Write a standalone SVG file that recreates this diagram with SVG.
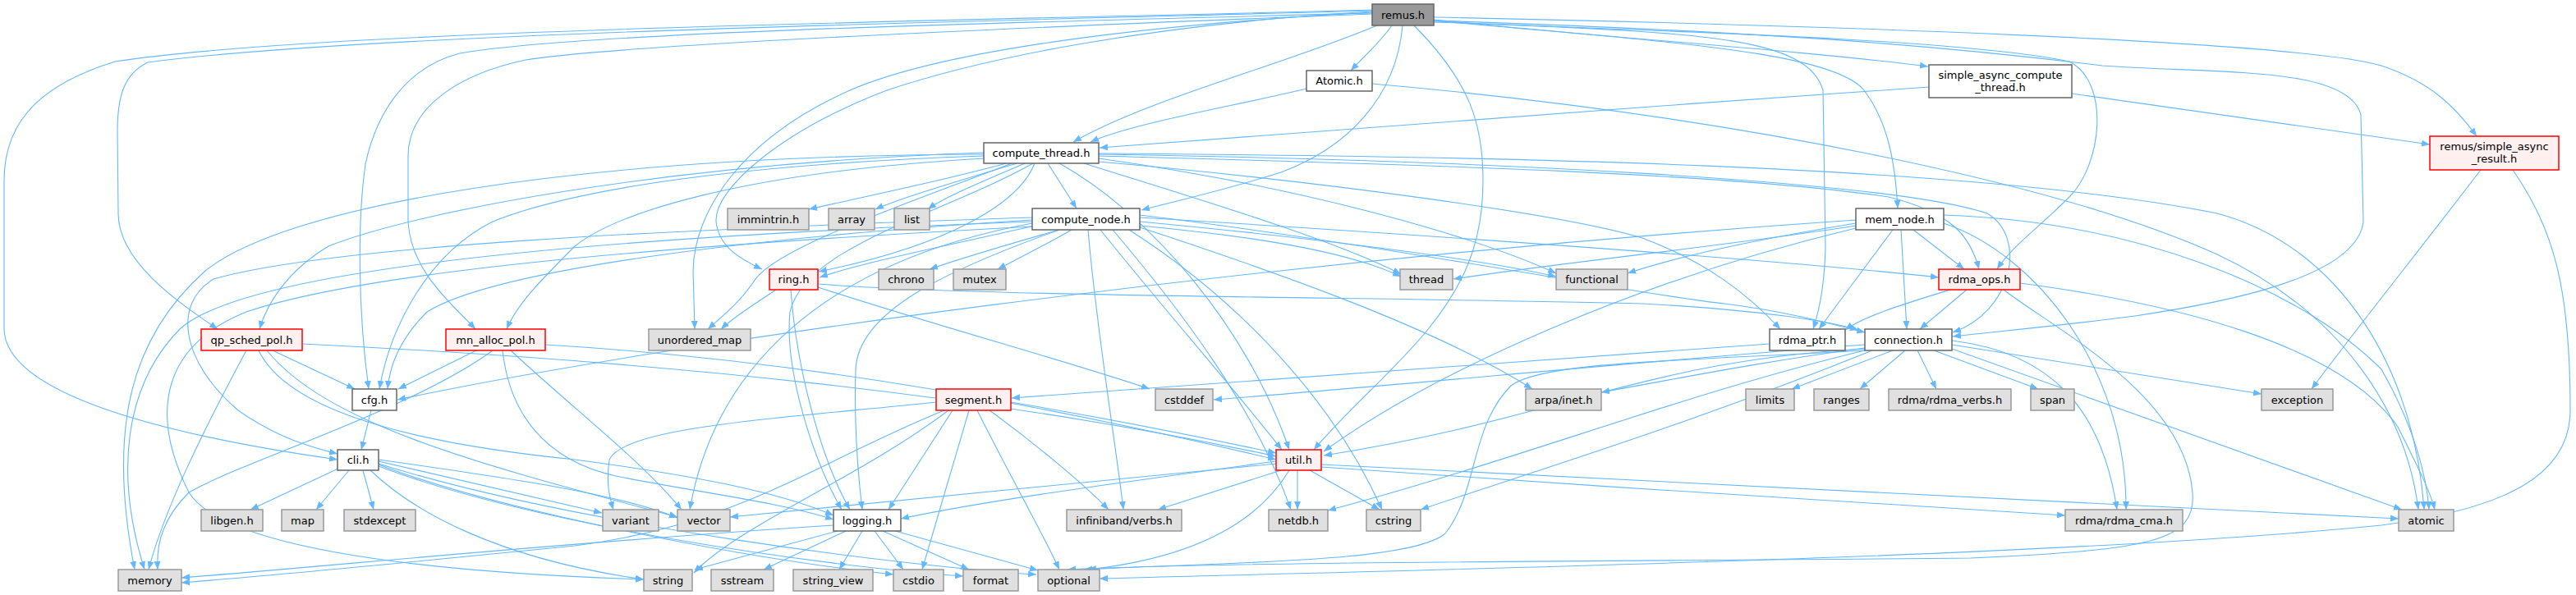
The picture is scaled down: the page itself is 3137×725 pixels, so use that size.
<svg xmlns="http://www.w3.org/2000/svg" width="3137" height="725" viewBox="0 0 3137 725">
<style>
.e{fill:none;stroke:#63b8ff;stroke-width:1.1}
.w rect{fill:#ffffff;stroke:#666666;stroke-width:1.5}
.g rect{fill:#e0e0e0;stroke:#999999;stroke-width:1.5}
.r rect{fill:#fff0f0;stroke:#ff0000;stroke-width:1.5}
.root rect{fill:#999999;stroke:#666666;stroke-width:1.5}
text{font-family:"DejaVu Sans","Noto Sans",sans-serif;font-size:13px;text-anchor:middle;fill:#000000}
</style>
<defs>
<marker id="a" markerWidth="11" markerHeight="9" refX="10" refY="4.5" orient="auto" markerUnits="userSpaceOnUse"><path d="M0,0.5 L10,4.5 L0,8.5 z" fill="#63b8ff"/></marker>
</defs>
<rect width="3137" height="725" fill="#ffffff"/>
<g id="edges" marker-end="url(#a)">
<!-- remus.h -->
<path class="e" d="M1695,31 C1682,50 1660,70 1645,86"/>
<path class="e" d="M1677,31 C1560,80 1400,120 1307,173"/>
<path class="e" d="M1708,31 C1700,120 1640,180 1560,210 C1480,235 1430,245 1390,256"/>
<path class="e" d="M1746,24 C2000,50 2230,60 2270,110 C2300,150 2308,200 2311,254"/>
<path class="e" d="M1746,25 C1950,45 2200,62 2348,81"/>
<path class="e" d="M1746,21 C2200,30 2800,50 2900,80 C2960,100 2990,130 3016,166"/>
<path class="e" d="M1746,27 C2100,40 2400,50 2520,75 C2570,100 2560,200 2520,240 C2480,280 2450,300 2432,328"/>
<path class="e" d="M1746,26 C2050,40 2200,40 2220,110 L2223,300 C2222,350 2215,380 2208,401"/>
<path class="e" d="M1746,25 C2200,40 2400,60 2560,80 C2700,90 2860,80 2875,140 L2878,270 C2870,340 2700,370 2600,385 C2500,398 2420,405 2378,410"/>
<path class="e" d="M1671,16 C1200,28 700,40 560,65 C500,80 460,130 445,200 C435,270 436,380 449,474"/>
<path class="e" d="M1671,12 C1200,25 400,35 140,75 C60,100 5,140 5,220 L5,400 C5,480 200,530 411,560"/>
<path class="e" d="M1671,13 C1200,26 450,40 180,76 C150,90 143,120 143,160 L144,260 C144,320 220,370 265,401"/>
<path class="e" d="M1671,17 C1200,35 750,55 640,73 C560,90 497,130 497,190 L497,270 C500,330 550,370 579,401"/>
<path class="e" d="M1671,14 C1400,30 1200,70 1080,110 C950,160 870,230 872,270 C875,300 900,315 928,328"/>
<path class="e" d="M1671,15 C1400,30 1150,60 1035,110 C900,170 845,260 844,330 L846,401"/>
<path class="e" d="M1722,31 C1790,100 1806,150 1806,220 C1806,300 1780,350 1740,400 C1700,450 1640,500 1600,548"/>
<!-- Atomic.h -->
<path class="e" d="M1591,108 C1500,130 1380,150 1328,173"/>
<path class="e" d="M1671,102 C2100,140 2500,220 2700,310 C2850,380 2930,500 2945,621"/>
<!-- simple_async_compute_thread.h -->
<path class="e" d="M2349,106 C2000,130 1600,160 1339,180"/>
<path class="e" d="M2523,114 L2959,176"/>
<!-- remus/simple_async_result.h -->
<path class="e" d="M3021,207 C2950,300 2870,400 2815,474"/>
<path class="e" d="M3060,207 C3110,280 3130,350 3130,500 C3130,580 3050,620 2900,640 C2500,680 1700,695 1339,705"/>
<!-- compute_thread.h -->
<path class="e" d="M1225,199 C1150,220 1050,240 985,255"/>
<path class="e" d="M1238,199 C1170,220 1100,240 1066,255"/>
<path class="e" d="M1248,199 C1200,220 1150,240 1130,255"/>
<path class="e" d="M1276,199 L1311,254"/>
<path class="e" d="M1260,199 C1240,250 1150,300 997,331"/>
<path class="e" d="M1232,199 C1100,250 950,300 920,340 C900,370 880,385 862,401"/>
<path class="e" d="M1198,190 C900,200 700,230 600,270 C520,310 475,400 462,474"/>
<path class="e" d="M1198,186 C800,200 500,260 400,300 C350,330 325,370 316,401"/>
<path class="e" d="M1198,193 C900,210 750,260 700,300 C660,340 630,370 617,401"/>
<path class="e" d="M1198,188 C700,190 350,250 250,330 C160,410 130,520 164,694"/>
<path class="e" d="M1258,199 C1150,260 980,300 962,380 C955,450 990,560 1025,621"/>
<path class="e" d="M1290,199 C1400,260 1520,400 1570,548"/>
<path class="e" d="M1320,199 C1450,240 1620,290 1706,334"/>
<path class="e" d="M1338,193 C1600,230 1800,290 1895,333"/>
<path class="e" d="M1338,190 C1700,200 2100,210 2300,240 C2380,260 2400,290 2410,328"/>
<path class="e" d="M1338,197 C1600,220 1900,260 2000,290 C2080,320 2130,360 2168,401"/>
<path class="e" d="M1338,188 C1800,195 2300,220 2420,260 C2470,290 2450,380 2378,405"/>
<path class="e" d="M1338,187 C1800,190 2400,200 2700,260 C2850,300 2940,450 2952,621"/>
<!-- compute_node.h -->
<path class="e" d="M1290,280 C1220,300 1170,315 1132,328"/>
<path class="e" d="M1305,280 C1270,300 1240,315 1215,328"/>
<path class="e" d="M1260,275 C1150,300 1050,320 998,338"/>
<path class="e" d="M1388,275 C1550,290 1650,310 1706,337"/>
<path class="e" d="M1388,270 C1600,290 1800,315 1895,337"/>
<path class="e" d="M1257,272 C1000,320 870,450 840,621"/>
<path class="e" d="M1257,268 C900,290 600,330 520,380 C490,410 475,440 472,474"/>
<path class="e" d="M1290,280 C1150,330 1045,380 1042,450 C1040,520 1045,580 1050,621"/>
<path class="e" d="M1340,280 C1420,380 1500,470 1561,548"/>
<path class="e" d="M1388,262 C1700,300 2000,360 2100,370 C2180,380 2230,395 2271,405"/>
<path class="e" d="M1388,265 C1800,290 2200,320 2361,338"/>
<path class="e" d="M1388,277 C1550,330 1750,400 1866,474"/>
<path class="e" d="M1355,280 C1440,380 1530,500 1572,621"/>
<path class="e" d="M1375,280 C1500,360 1620,480 1683,621"/>
<path class="e" d="M1325,280 C1335,400 1360,550 1368,621"/>
<path class="e" d="M1257,270 C700,290 300,330 220,400 C150,470 140,580 176,694"/>
<path class="e" d="M1257,276 C800,300 450,330 300,380 C200,420 180,500 230,600 C280,680 600,700 784,706"/>
<path class="e" d="M1257,265 C800,280 400,300 260,340 C210,370 220,440 290,500 C340,535 380,545 411,553"/>
<!-- mem_node.h -->
<path class="e" d="M2260,275 C2100,300 1900,320 1770,340"/>
<path class="e" d="M2260,272 C2150,290 2050,310 1982,333"/>
<path class="e" d="M2330,280 L2392,328"/>
<path class="e" d="M2305,280 L2215,401"/>
<path class="e" d="M2315,280 L2322,401"/>
<path class="e" d="M2260,278 C2000,340 1750,450 1612,550"/>
<path class="e" d="M2260,268 C1500,320 800,420 484,487"/>
<path class="e" d="M2367,262 C2600,270 2800,350 2900,450 C2940,520 2955,580 2958,621"/>
<path class="e" d="M2367,272 C2480,310 2590,450 2589,621"/>
<!-- rdma_ops.h -->
<path class="e" d="M2395,353 L2338,401"/>
<path class="e" d="M2375,353 C2320,370 2270,385 2247,402"/>
<path class="e" d="M2460,345 C2650,370 2850,420 2920,520 C2945,570 2960,600 2965,621"/>
<path class="e" d="M2440,353 C2500,400 2660,480 2670,600 C2675,660 2620,670 2400,680 C2000,684 1500,684 1300,694"/>
<!-- rdma_ptr.h -->
<path class="e" d="M2155,419 C1800,445 1500,465 1232,485"/>
<!-- connection.h -->
<path class="e" d="M2305,427 L2182,474"/>
<path class="e" d="M2320,427 L2265,474"/>
<path class="e" d="M2335,427 L2358,474"/>
<path class="e" d="M2355,427 L2482,474"/>
<path class="e" d="M2377,420 L2754,480"/>
<path class="e" d="M2377,425 L2925,621"/>
<path class="e" d="M2377,415 C2500,430 2560,500 2578,621"/>
<path class="e" d="M2271,424 C2150,440 2050,460 1950,478"/>
<path class="e" d="M2271,425 C2000,440 1900,510 1612,555"/>
<path class="e" d="M2271,427 C2050,480 1850,560 1617,622"/>
<path class="e" d="M2280,427 C2050,520 1850,580 1730,621"/>
<path class="e" d="M2271,420 C2000,440 1700,470 1478,487"/>
<path class="e" d="M2271,427 C2050,440 1880,440 1840,470 C1790,520 1800,600 1760,650 C1720,685 1500,685 1320,694"/>
<!-- ring.h -->
<path class="e" d="M945,353 C920,370 895,385 878,401"/>
<path class="e" d="M996,350 C1150,400 1300,440 1400,474"/>
<path class="e" d="M963,353 C970,450 1000,560 1035,621"/>
<path class="e" d="M996,346 C1200,362 1700,362 2000,370 C2150,378 2230,392 2263,402"/>
<!-- qp_sched_pol.h -->
<path class="e" d="M332,427 L432,474"/>
<path class="e" d="M300,427 C250,520 200,620 181,694"/>
<path class="e" d="M315,427 C350,500 500,540 700,560 C850,580 950,600 1015,628"/>
<path class="e" d="M368,419 C800,440 1200,480 1554,556"/>
<path class="e" d="M325,427 C400,520 600,570 825,630"/>
<!-- mn_alloc_pol.h -->
<path class="e" d="M580,427 L485,474"/>
<path class="e" d="M600,427 C500,500 300,560 230,600 C200,630 190,660 192,694"/>
<path class="e" d="M612,427 C620,500 660,560 750,580 C850,600 950,612 1015,633"/>
<path class="e" d="M664,420 C1000,440 1300,500 1554,560"/>
<path class="e" d="M622,427 C700,500 780,560 830,621"/>
<!-- cfg.h -->
<path class="e" d="M452,500 L440,548"/>
<!-- cli.h -->
<path class="e" d="M414,570 L305,621"/>
<path class="e" d="M425,573 L385,621"/>
<path class="e" d="M442,573 L455,621"/>
<path class="e" d="M461,562 L733,625"/>
<path class="e" d="M461,560 C600,580 750,600 825,631"/>
<path class="e" d="M451,573 C500,620 600,680 784,706"/>
<path class="e" d="M461,566 C600,620 900,680 1088,700"/>
<path class="e" d="M461,568 C650,640 1000,690 1173,702"/>
<path class="e" d="M461,565 C700,640 1100,690 1262,700"/>
<!-- segment.h -->
<path class="e" d="M1160,500 L1082,621"/>
<path class="e" d="M1155,500 C1050,580 900,640 845,698"/>
<path class="e" d="M1180,500 L1123,694"/>
<path class="e" d="M1190,500 C1230,580 1270,650 1290,694"/>
<path class="e" d="M1205,500 C1260,540 1320,590 1350,621"/>
<path class="e" d="M1231,490 C1350,510 1450,530 1554,552"/>
<path class="e" d="M1150,500 C1000,560 900,640 700,665 C500,685 350,700 221,710"/>
<path class="e" d="M1140,490 C950,510 760,520 742,560 C738,590 742,605 747,621"/>
<!-- util.h -->
<path class="e" d="M1554,562 C1350,590 1200,610 1097,632"/>
<path class="e" d="M1554,565 C1200,600 1000,620 889,630"/>
<path class="e" d="M1560,573 L1410,621"/>
<path class="e" d="M1580,573 L1580,621"/>
<path class="e" d="M1595,573 L1680,621"/>
<path class="e" d="M1609,566 C2100,590 2600,615 2921,632"/>
<path class="e" d="M1609,569 C1900,590 2300,615 2515,628"/>
<path class="e" d="M1570,573 C1530,640 1450,680 1325,694"/>
<!-- logging.h -->
<path class="e" d="M1020,647 L846,694"/>
<path class="e" d="M1030,647 L930,694"/>
<path class="e" d="M1050,647 L1022,694"/>
<path class="e" d="M1065,647 L1100,694"/>
<path class="e" d="M1075,647 L1180,694"/>
<path class="e" d="M1090,647 L1264,695"/>
<path class="e" d="M1015,640 C700,660 400,690 221,704"/>
</g>
<g id="n_remus" class="root"><rect x="1671" y="5" width="75" height="26"/><text x="1708.5" y="22.5">remus.h</text></g>
<g id="n_Atomic" class="w"><rect x="1591" y="86" width="80" height="25"/><text x="1631" y="103">Atomic.h</text></g>
<g id="n_sact" class="w"><rect x="2349" y="79" width="174" height="40"/><text x="2436" y="96">simple_async_compute</text><text x="2436" y="111">_thread.h</text></g>
<g id="n_compute_thread" class="w"><rect x="1198" y="174" width="140" height="25"/><text x="1268" y="191">compute_thread.h</text></g>
<g id="n_sar" class="r"><rect x="2959" y="166" width="157" height="41"/><text x="3037.5" y="183">remus/simple_async</text><text x="3037.5" y="198">_result.h</text></g>
<g id="n_immintrin" class="g"><rect x="886" y="254" width="99" height="26"/><text x="935.5" y="271.5">immintrin.h</text></g>
<g id="n_array" class="g"><rect x="1009" y="254" width="56" height="26"/><text x="1037" y="271.5">array</text></g>
<g id="n_list" class="g"><rect x="1089" y="254" width="43" height="26"/><text x="1110.5" y="271.5">list</text></g>
<g id="n_compute_node" class="w"><rect x="1257" y="254" width="131" height="26"/><text x="1322.5" y="271.5">compute_node.h</text></g>
<g id="n_mem_node" class="w"><rect x="2260" y="254" width="107" height="26"/><text x="2313.5" y="271.5">mem_node.h</text></g>
<g id="n_ring" class="r"><rect x="937" y="328" width="59" height="25"/><text x="966.5" y="345">ring.h</text></g>
<g id="n_chrono" class="g"><rect x="1070" y="328" width="67" height="25"/><text x="1103.5" y="345">chrono</text></g>
<g id="n_mutex" class="g"><rect x="1161" y="328" width="64" height="25"/><text x="1193" y="345">mutex</text></g>
<g id="n_thread" class="g"><rect x="1705" y="328" width="64" height="25"/><text x="1737" y="345">thread</text></g>
<g id="n_functional" class="g"><rect x="1895" y="328" width="87" height="25"/><text x="1938.5" y="345">functional</text></g>
<g id="n_rdma_ops" class="r"><rect x="2361" y="328" width="99" height="25"/><text x="2410.5" y="345">rdma_ops.h</text></g>
<g id="n_qp_sched_pol" class="r"><rect x="245" y="401" width="123" height="26"/><text x="306.5" y="418.5">qp_sched_pol.h</text></g>
<g id="n_mn_alloc_pol" class="r"><rect x="543" y="401" width="121" height="26"/><text x="603.5" y="418.5">mn_alloc_pol.h</text></g>
<g id="n_unordered_map" class="g"><rect x="790" y="401" width="124" height="26"/><text x="852" y="418.5">unordered_map</text></g>
<g id="n_rdma_ptr" class="w"><rect x="2155" y="401" width="92" height="26"/><text x="2201" y="418.5">rdma_ptr.h</text></g>
<g id="n_connection" class="w"><rect x="2271" y="401" width="106" height="26"/><text x="2324" y="418.5">connection.h</text></g>
<g id="n_cfg" class="w"><rect x="429" y="474" width="54" height="26"/><text x="456" y="491.5">cfg.h</text></g>
<g id="n_segment" class="r"><rect x="1140" y="474" width="91" height="26"/><text x="1185.5" y="491.5">segment.h</text></g>
<g id="n_cstddef" class="g"><rect x="1407" y="474" width="70" height="26"/><text x="1442" y="491.5">cstddef</text></g>
<g id="n_arpa_inet" class="g"><rect x="1858" y="474" width="92" height="26"/><text x="1904" y="491.5">arpa/inet.h</text></g>
<g id="n_limits" class="g"><rect x="2126" y="474" width="59" height="26"/><text x="2155.5" y="491.5">limits</text></g>
<g id="n_ranges" class="g"><rect x="2209" y="474" width="67" height="26"/><text x="2242.5" y="491.5">ranges</text></g>
<g id="n_rdma_verbs" class="g"><rect x="2300" y="474" width="149" height="26"/><text x="2374.5" y="491.5">rdma/rdma_verbs.h</text></g>
<g id="n_span" class="g"><rect x="2473" y="474" width="53" height="26"/><text x="2499.5" y="491.5">span</text></g>
<g id="n_exception" class="g"><rect x="2754" y="474" width="87" height="26"/><text x="2797.5" y="491.5">exception</text></g>
<g id="n_cli" class="w"><rect x="411" y="548" width="50" height="25"/><text x="436" y="565">cli.h</text></g>
<g id="n_util" class="r"><rect x="1554" y="548" width="55" height="25"/><text x="1581.5" y="565">util.h</text></g>
<g id="n_libgen" class="g"><rect x="245" y="621" width="75" height="26"/><text x="282.5" y="638.5">libgen.h</text></g>
<g id="n_map" class="g"><rect x="343" y="621" width="51" height="26"/><text x="368.5" y="638.5">map</text></g>
<g id="n_stdexcept" class="g"><rect x="419" y="621" width="87" height="26"/><text x="462.5" y="638.5">stdexcept</text></g>
<g id="n_variant" class="g"><rect x="734" y="621" width="68" height="26"/><text x="768" y="638.5">variant</text></g>
<g id="n_vector" class="g"><rect x="825" y="621" width="64" height="26"/><text x="857" y="638.5">vector</text></g>
<g id="n_logging" class="w"><rect x="1015" y="621" width="82" height="26"/><text x="1056" y="638.5">logging.h</text></g>
<g id="n_ibverbs" class="g"><rect x="1299" y="621" width="140" height="26"/><text x="1369" y="638.5">infiniband/verbs.h</text></g>
<g id="n_netdb" class="g"><rect x="1545" y="621" width="72" height="26"/><text x="1581" y="638.5">netdb.h</text></g>
<g id="n_cstring" class="g"><rect x="1664" y="621" width="66" height="26"/><text x="1697" y="638.5">cstring</text></g>
<g id="n_rdma_cma" class="g"><rect x="2515" y="621" width="143" height="26"/><text x="2586.5" y="638.5">rdma/rdma_cma.h</text></g>
<g id="n_atomic" class="g"><rect x="2921" y="621" width="67" height="26"/><text x="2954.5" y="638.5">atomic</text></g>
<g id="n_memory" class="g"><rect x="144" y="694" width="77" height="26"/><text x="182.5" y="711.5">memory</text></g>
<g id="n_string" class="g"><rect x="784" y="694" width="59" height="26"/><text x="813.5" y="711.5">string</text></g>
<g id="n_sstream" class="g"><rect x="866" y="694" width="76" height="26"/><text x="904" y="711.5">sstream</text></g>
<g id="n_string_view" class="g"><rect x="966" y="694" width="97" height="26"/><text x="1014.5" y="711.5">string_view</text></g>
<g id="n_cstdio" class="g"><rect x="1088" y="694" width="61" height="26"/><text x="1118.5" y="711.5">cstdio</text></g>
<g id="n_format" class="g"><rect x="1173" y="694" width="67" height="26"/><text x="1206.5" y="711.5">format</text></g>
<g id="n_optional" class="g"><rect x="1264" y="694" width="75" height="26"/><text x="1301.5" y="711.5">optional</text></g>
</svg>
